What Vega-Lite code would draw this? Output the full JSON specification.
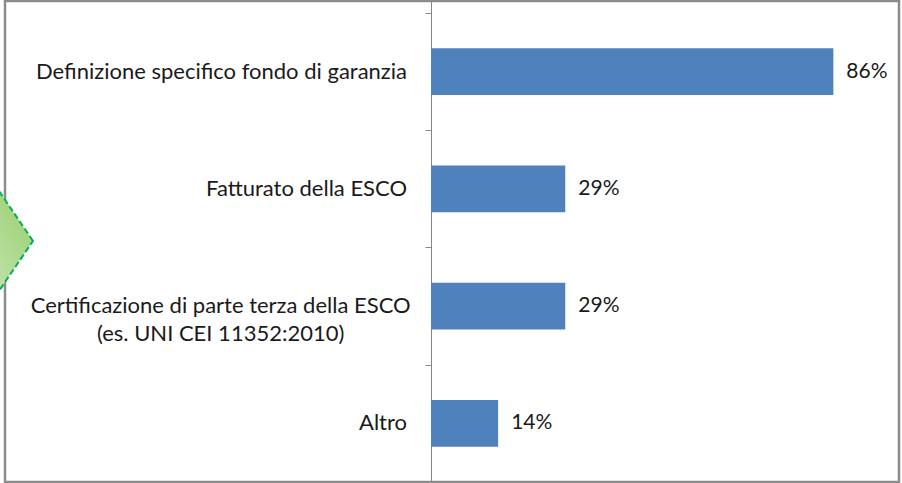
{
  "$schema": "https://vega.github.io/schema/vega-lite/v6.json",
  "width": 894,
  "height": 481,
  "padding": {"left": 5, "top": 1, "right": 3, "bottom": 1},
  "autosize": {"type": "none"},
  "background": "white",
  "config": {"view": {"stroke": "#8c8c8c", "strokeWidth": 2.5}, "font": "Lato"},
  "data": {"values": [
    {"categoria": "Definizione specifico fondo di garanzia", "quota": 0.857, "etichetta": "86%"},
    {"categoria": "Fatturato della ESCO", "quota": 0.286, "etichetta": "29%"},
    {"categoria": "Certificazione di parte terza della ESCO\n(es. UNI CEI 11352:2010)", "quota": 0.286, "etichetta": "29%"},
    {"categoria": "Altro", "quota": 0.143, "etichetta": "14%"}
  ]},
  "encoding": {
    "y": {
      "field": "categoria", "type": "nominal", "sort": null,
      "scale": {"paddingInner": 0.6, "paddingOuter": 0.3512, "align": 0.5729},
      "axis": {
        "title": null, "orient": "left", "offset": -426, "grid": false,
        "domainColor": "#868686", "domainWidth": 1,
        "tickColor": "#868686", "tickSize": 6, "bandPosition": 0, "tickOffset": -35.2,
        "labels": false
      }
    }
  },
  "layer": [
    {
      "mark": {"type": "bar", "color": "#4f81bd"},
      "encoding": {
        "x": {"field": "quota", "type": "quantitative", "scale": {"domain": [-0.9073, 0.9968], "nice": false, "zero": false}, "axis": null},
        "x2": {"datum": 0}
      }
    },
    {
      "transform": [{"filter": "datum.categoria == 'Fatturato della ESCO'"}],
      "mark": {
        "type": "point", "filled": true, "opacity": 1,
        "shape": "M0.68,0L0,-1L-0.68,0L0,1Z", "size": 21609,
        "color": {"gradient": "linear", "x1": 0, "y1": 1, "x2": 1, "y2": 0,
                 "stops": [{"offset": 0, "color": "#e2f1d6"}, {"offset": 1, "color": "#8fcb64"}]},
        "stroke": "#00b050", "strokeWidth": 2, "strokeDash": [6, 3]
      },
      "encoding": {
        "x": {"datum": -0.9542},
        "y": {"field": "categoria", "type": "nominal", "sort": null, "bandPosition": 1.61}
      }
    },
    {
      "mark": {"type": "text", "align": "left", "baseline": "middle", "dx": 13, "fontSize": 21, "color": "#1a1a1a"},
      "encoding": {
        "x": {"field": "quota", "type": "quantitative"},
        "text": {"field": "etichetta"}
      }
    },
    {
      "transform": [{"filter": "indexof(datum.categoria, 'UNI') < 0"}],
      "mark": {"type": "text", "align": "right", "baseline": "middle", "fontSize": 22, "color": "#1a1a1a"},
      "encoding": {
        "x": {"datum": -0.051},
        "text": {"field": "categoria"}
      }
    },
    {
      "transform": [{"filter": "indexof(datum.categoria, 'UNI') >= 0"}],
      "mark": {"type": "text", "align": "center", "baseline": "middle", "fontSize": 22, "color": "#1a1a1a", "lineBreak": "\n", "lineHeight": 28},
      "encoding": {
        "x": {"datum": -0.448},
        "text": {"field": "categoria"}
      }
    }
  ]
}
